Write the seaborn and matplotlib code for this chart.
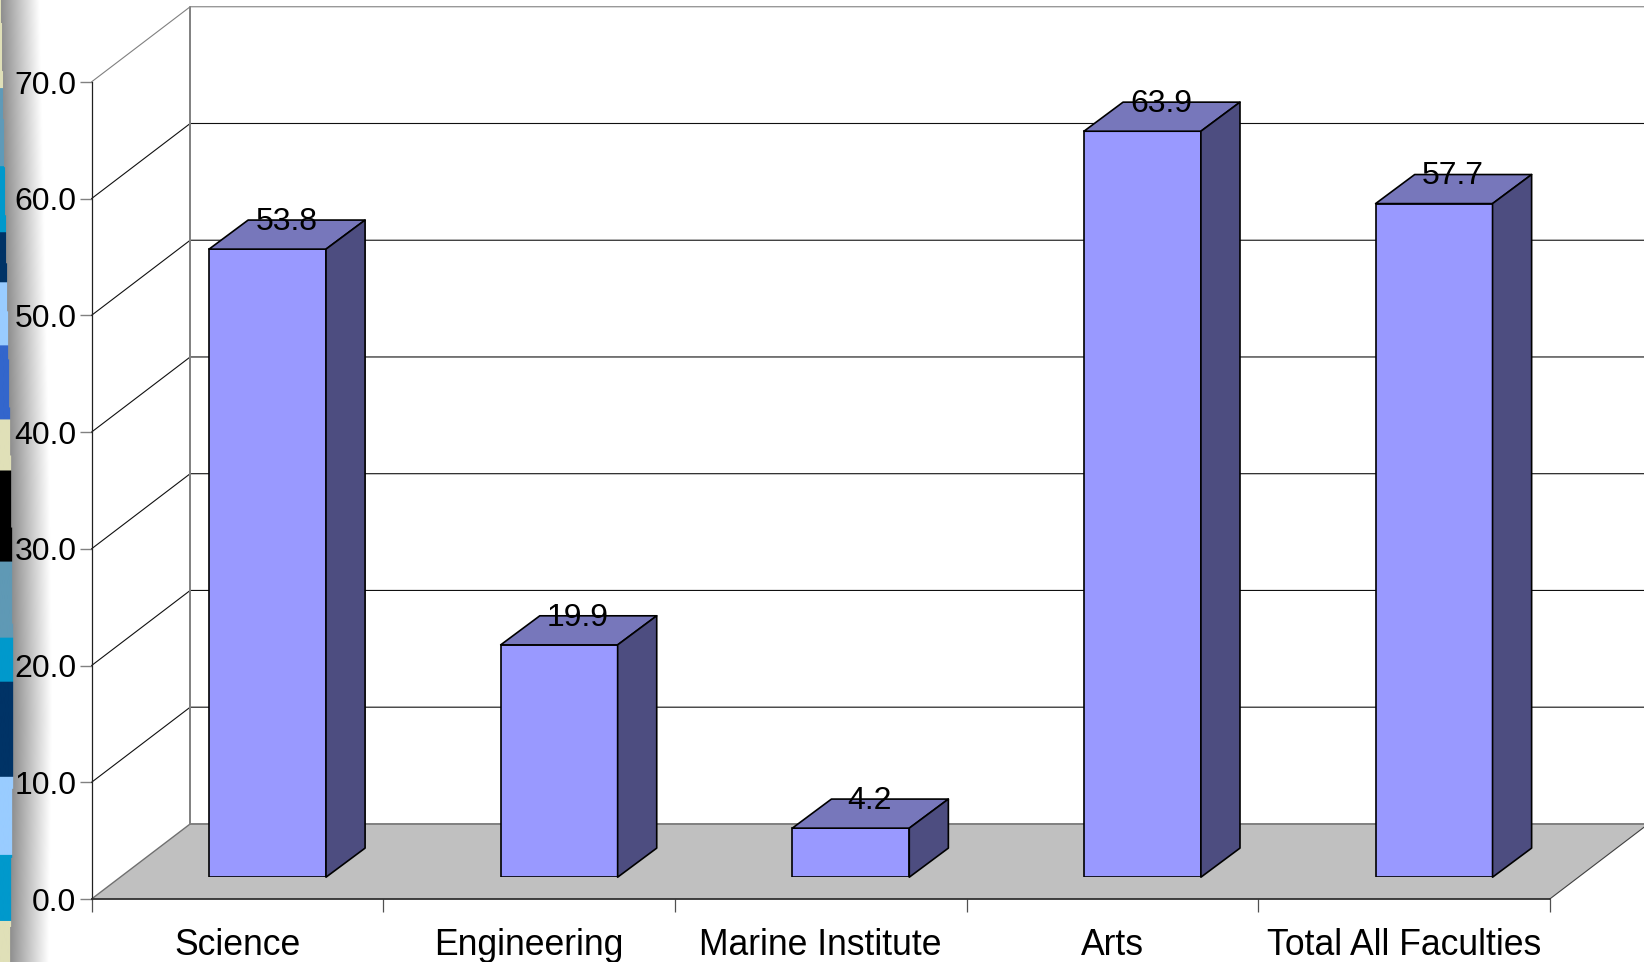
import numpy as np
import pandas as pd
import matplotlib
matplotlib.use("Agg")
import matplotlib.pyplot as plt
from matplotlib.patches import Polygon
import seaborn as sns

# Chart values
faculties = ["Science", "Engineering", "Marine Institute", "Arts", "Total All Faculties"]
rates = [53.8, 19.9, 4.2, 63.9, 57.7]
value_ticks = [0, 10, 20, 30, 40, 50, 60, 70]
value_labels = ["0.0", "10.0", "20.0", "30.0", "40.0", "50.0", "60.0", "70.0"]

# Slide border: band boundaries (pixel rows) and colours
band_edges = [0, 89, 167, 233, 283, 346, 420, 471, 562, 638, 682, 777, 855, 921, 962]
band_colors = ["#e0e0b8", "#5f9ab8", "#0099cc", "#003366", "#99ccff", "#3366cc", "#e0e0b8",
               "#000000", "#5f99b5", "#0099cc", "#003366", "#99ccff", "#0099cc", "#e0e0b8"]
border_rows = [0, 240, 480, 720, 962]
border_width = [1, 6, 11, 13.5, 10]

FIG_W, FIG_H = 1644, 962
AX_LEFT, AX_RIGHT, AX_BOTTOM, AX_TOP = 91.6, 1549.6, 899.0, 82.0
BAR_SHIFT_X, BAR_SHIFT_Y = 30.1, 21.8       # bars stand inside the floor
WALL_DX, WALL_DY = 0.338, 6.43              # depth of the chart box, in data units
BAR_DX, BAR_DY = 0.134, 2.49                # depth of each bar, in data units

sns.set_theme(style="white")
plt.rcParams["font.family"] = ["Liberation Sans", "DejaVu Sans"]

fig = plt.figure(figsize=((FIG_W + 0.2) / 100, (FIG_H + 0.2) / 100), dpi=100, facecolor="white")

# Patterned border with a soft shadow falling onto the white slide
ax_bg = fig.add_axes([0, 0, 1, 1], zorder=0)
ax_bg.axis("off")
rows = np.arange(FIG_H) + 0.5
cols = np.arange(80) + 0.5
edge = np.interp(rows, border_rows, border_width)
band_rgb = np.array([matplotlib.colors.to_rgb(c) for c in band_colors])
band_idx = np.clip(np.searchsorted(band_edges, rows) - 1, 0, len(band_colors) - 1)
img = np.ones((FIG_H, cols.size, 3))
for r in range(FIG_H):
    t = np.clip((cols - edge[r]) / 38.0, 0, 1)
    shade = 0.56 + 0.44 * t
    img[r] = np.where((cols < edge[r])[:, None], band_rgb[band_idx[r]], shade[:, None])
ax_bg.imshow(img, extent=(0, cols.size, FIG_H, 0), aspect="auto", interpolation="bilinear")
ax_bg.set_xlim(0, FIG_W)
ax_bg.set_ylim(FIG_H, 0)

# Front plane of the box: carries both real axes
rect = [AX_LEFT / FIG_W, (FIG_H - AX_BOTTOM) / FIG_H,
        (AX_RIGHT - AX_LEFT) / FIG_W, (AX_BOTTOM - AX_TOP) / FIG_H]
ax = fig.add_axes(rect, zorder=1)
ax.patch.set_visible(False)
n = len(faculties)
ax.set_xlim(-0.5, n - 0.5)
ax.set_ylim(0, 70)
x0, x1 = -0.5, n - 0.5

# Floor
ax.add_patch(Polygon([(x0, 0), (x1, 0), (x1 + WALL_DX, WALL_DY), (x0 + WALL_DX, WALL_DY)],
                     closed=True, facecolor="#c0c0c0", edgecolor="none", clip_on=False, zorder=1))
ax.plot([x0 + WALL_DX, x1 + WALL_DX], [WALL_DY, WALL_DY], color="#808080", lw=1.4, clip_on=False, zorder=2)
ax.plot([x0, x0 + WALL_DX], [0, WALL_DY], color="#707070", lw=1.0, clip_on=False, zorder=2)
ax.plot([x1, x1 + WALL_DX], [0, WALL_DY], color="#404040", lw=0.8, clip_on=False, zorder=2)

# Gridlines run along the side wall and then the back wall
for v in value_ticks[1:]:
    line_color = "#808080" if v == value_ticks[-1] else "#101010"
    ax.plot([x0, x0 + WALL_DX, x1 + WALL_DX], [v, v + WALL_DY, v + WALL_DY],
            color=line_color, lw=0.8, clip_on=False, zorder=2)
ax.plot([x0 + WALL_DX, x0 + WALL_DX], [WALL_DY, 70 + WALL_DY], color="#808080", lw=1.4,
        clip_on=False, zorder=3)

# Axes
for side in ("top", "right"):
    ax.spines[side].set_visible(False)
ax.spines["left"].set_color("#202020")
ax.spines["left"].set_linewidth(0.9)
ax.spines["bottom"].set_color("#303030")
ax.spines["bottom"].set_linewidth(1.3)
ax.set_yticks(value_ticks, labels=value_labels)
ax.set_xticks(np.arange(n + 1) - 0.5, labels=[""] * (n + 1))
ax.set_xticks(np.arange(n), labels=faculties, minor=True)
ax.tick_params(axis="y", which="major", direction="out", left=True, length=9, width=1.0,
               color="#808080", labelsize=23, pad=2, labelcolor="black")
ax.tick_params(axis="x", which="major", direction="out", bottom=True, length=9, width=0.9,
               color="#505050")
ax.tick_params(axis="x", which="minor", bottom=False, length=0, labelsize=25.6, pad=21,
               labelcolor="black")
ax.set_xlabel("")
ax.set_ylabel("")

# Bars on their own axes, same scales, moved back onto the floor
rect_bars = [(AX_LEFT + BAR_SHIFT_X) / FIG_W, (FIG_H - AX_BOTTOM + BAR_SHIFT_Y) / FIG_H,
             rect[2], rect[3]]
ax_bars = fig.add_axes(rect_bars, zorder=2)
ax_bars.patch.set_visible(False)
df = pd.DataFrame({"faculty": faculties, "rate": rates})
sns.barplot(data=df, x="faculty", y="rate", order=faculties, color="#9999ff", saturation=1,
            width=0.401, edgecolor="black", linewidth=1.2, ax=ax_bars, zorder=3)
ax_bars.set_xlim(-0.5, n - 0.5)
ax_bars.set_ylim(0, 70)
ax_bars.axis("off")

for patch, value in zip(list(ax_bars.patches), rates):
    left, width = patch.get_x(), patch.get_width()
    right = left + width
    ax_bars.add_patch(Polygon(
        [(left, value), (right, value), (right + BAR_DX, value + BAR_DY), (left + BAR_DX, value + BAR_DY)],
        closed=True, facecolor="#7777bb", edgecolor="black", linewidth=1.2, clip_on=False, zorder=4,
        joinstyle="round"))
    ax_bars.add_patch(Polygon(
        [(right, 0), (right + BAR_DX, BAR_DY), (right + BAR_DX, value + BAR_DY), (right, value)],
        closed=True, facecolor="#4d4d80", edgecolor="black", linewidth=1.2, clip_on=False, zorder=4,
        joinstyle="round"))
    ax_bars.text(left + width / 2 + 0.065, value + BAR_DY - 0.15, f"{value:.1f}", ha="center",
                 va="center", fontsize=23, color="black", zorder=5)

fig.savefig("out.png", dpi=100, facecolor="white")
